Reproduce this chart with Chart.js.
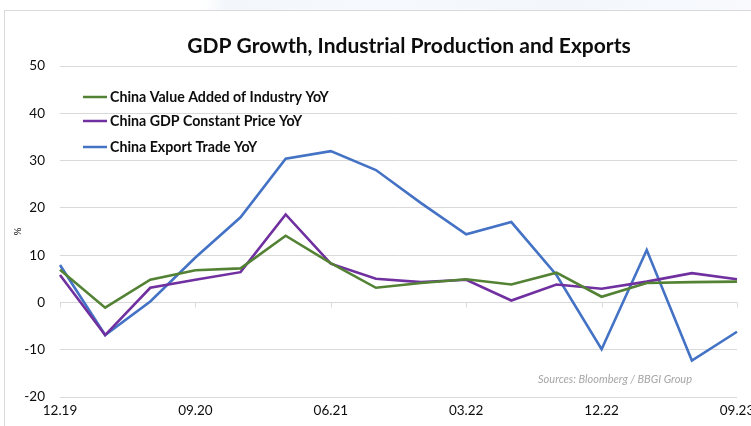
<!DOCTYPE html>
<html>
<head>
<meta charset="utf-8">
<script src="https://cdn.jsdelivr.net/npm/chart.js@4/dist/chart.umd.min.js"></script>
<style>
  html, body { margin: 0; padding: 0; background: #ffffff; }
  #wrap { position: relative; width: 751px; height: 426px; overflow: hidden; background: #fff; }
  #topband { position: absolute; left: 0; top: 0; width: 751px; height: 10px;
    background: linear-gradient(90deg, #ffffff 0%, #ffffff 27%, #f3f7fc 30%, #f6f9fd 50%, #f3f7fc 75%, #f8fafd 100%); }
  #frame { position: absolute; left: 4px; top: 10px; width: 760px; height: 430px; border: 1px solid #d9d9d9; box-sizing: border-box; }
  canvas { position: absolute; left: 0; top: 0; }
</style>
</head>
<body>
<div id="wrap">
  <div id="topband"></div>
  <div id="frame"></div>
  <canvas id="c" width="751" height="426"></canvas>
</div>
<script>
const quarters = ['12.19','03.20','06.20','09.20','12.20','03.21','06.21','09.21','12.21','03.22','06.22','09.22','12.22','03.23','06.23','09.23'];
const shownTickLabels = ['12.19','09.20','06.21','03.22','12.22','09.23'];
const industryYoY = [6.9, -1.1, 4.8, 6.8, 7.2, 14.1, 8.3, 3.1, 4.1, 4.9, 3.8, 6.3, 1.2, 4.1, 4.3, 4.4];
const gdpYoY      = [5.8, -6.9, 3.1, 4.8, 6.4, 18.6, 8.2, 5.0, 4.3, 4.8, 0.4, 3.8, 2.9, 4.4, 6.2, 4.9];
const exportYoY   = [7.9, -6.9, 0.2, 9.5, 18.0, 30.4, 32.0, 28.0, 21.0, 14.4, 17.0, 5.8, -9.9, 11.1, -12.3, -6.2];
const yTicks = [-20, -10, 0, 10, 20, 30, 40, 50];
const seriesNames = ['China Value Added of Industry YoY', 'China GDP Constant Price YoY', 'China Export Trade YoY'];
const titleText = 'GDP Growth, Industrial Production and Exports';
const sourceText = 'Sources: Bloomberg / BBGI Group';

const FONT = 'Lato, "Liberation Sans", sans-serif';

const decorations = {
  id: 'decorations',
  afterDatasetsDraw(chart) {
    const ctx = chart.ctx;
    const xs = chart.scales.x, ys = chart.scales.y;
    ctx.save();
    ctx.strokeStyle = '#d9d9d9';
    ctx.lineWidth = 1;
    const y0 = Math.round(ys.getPixelForValue(0)) + 0.5;
    quarters.forEach((q, i) => {
      if (shownTickLabels.includes(q)) {
        const x = Math.round(xs.getPixelForValue(i)) + 0.5;
        ctx.beginPath(); ctx.moveTo(x, y0); ctx.lineTo(x, y0 + 5); ctx.stroke();
      }
    });
    ctx.restore();
  },
  afterDraw(chart) {
    const ctx = chart.ctx;
    ctx.save();
    ctx.fillStyle = '#0d0d0d';
    ctx.font = 'bold 21px ' + FONT;
    ctx.textAlign = 'center';
    ctx.textBaseline = 'middle';
    ctx.fillText(titleText, 409, 46);
    const rows = [97, 121, 147];
    chart.data.datasets.forEach((ds, i) => {
      ctx.strokeStyle = ds.borderColor;
      ctx.lineWidth = 2.5;
      ctx.beginPath(); ctx.moveTo(83, rows[i]); ctx.lineTo(107, rows[i]); ctx.stroke();
      ctx.fillStyle = '#0d0d0d';
      ctx.font = 'bold 14.2px ' + FONT;
      ctx.textAlign = 'left';
      ctx.textBaseline = 'middle';
      ctx.fillText(ds.label, 110, rows[i]);
    });
    ctx.fillStyle = '#a6a6a6';
    ctx.font = 'italic 11px ' + FONT;
    ctx.textAlign = 'right';
    ctx.textBaseline = 'middle';
    ctx.fillText(sourceText, 692, 379);
    ctx.restore();
  }
};

new Chart(document.getElementById('c'), {
  type: 'line',
  data: {
    labels: quarters,
    datasets: [
      { label: seriesNames[0], data: industryYoY, borderColor: '#548235', backgroundColor: '#548235' },
      { label: seriesNames[1], data: gdpYoY, borderColor: '#7030a0', backgroundColor: '#7030a0' },
      { label: seriesNames[2], data: exportYoY, borderColor: '#4472c4', backgroundColor: '#4472c4' }
    ]
  },
  options: {
    responsive: false,
    animation: false,
    devicePixelRatio: 1,
    layout: { padding: { left: 0, right: 14, top: 66, bottom: 0 } },
    elements: {
      line: { borderWidth: 2.6, tension: 0, borderJoinStyle: 'miter' },
      point: { radius: 0, hoverRadius: 0 }
    },
    plugins: {
      legend: { display: false },
      title: { display: false },
      tooltip: { enabled: false }
    },
    scales: {
      x: {
        type: 'category',
        offset: false,
        grid: { display: false, drawTicks: false },
        border: { display: false },
        ticks: {
          autoSkip: false,
          maxRotation: 0,
          minRotation: 0,
          padding: 6,
          color: '#0d0d0d',
          font: { family: FONT, size: 13.5 },
          callback: function(v, i) { return shownTickLabels.includes(quarters[i]) ? quarters[i] : ''; }
        },
        afterFit(scale) { scale.height = 29; scale.paddingLeft = 0; scale.paddingRight = 0; }
      },
      y: {
        min: -20,
        max: 50,
        afterBuildTicks(scale) { scale.ticks = yTicks.map(v => ({ value: v })); },
        grid: { color: '#d9d9d9', lineWidth: 1, drawTicks: false },
        border: { display: false },
        ticks: {
          padding: 15,
          color: '#0d0d0d',
          font: { family: FONT, size: 13.5 }
        },
        title: {
          display: true,
          text: '%',
          color: '#0d0d0d',
          font: { family: FONT, size: 10 },
          padding: { top: 12, bottom: 0 }
        },
        afterFit(scale) { scale.width = 60; }
      }
    }
  },
  plugins: [decorations]
});
</script>
</body>
</html>
